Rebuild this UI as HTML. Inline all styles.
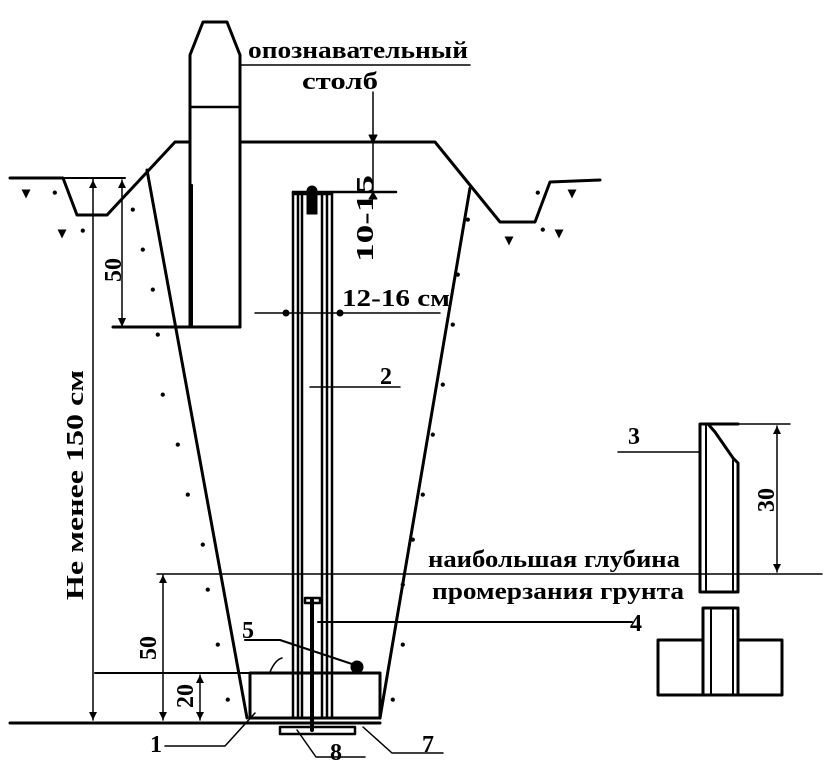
<!DOCTYPE html>
<html><head><meta charset="utf-8"><style>
html,body{margin:0;padding:0;background:#fff}
svg{display:block}
text{font-family:"Liberation Serif",serif;fill:#000;font-weight:bold}
</style></head><body>
<svg width="827" height="774" viewBox="0 0 827 774" xmlns="http://www.w3.org/2000/svg">
<g stroke="#000" fill="none" stroke-linecap="round" stroke-linejoin="round">
<path d="M10 178 L63 178 L77 215 L107 215 L175 142 L435 142 L500 222 L535 222 L550 182 L600 180" stroke-width="3"/>
<line x1="63" y1="178" x2="125" y2="178" stroke-width="2"/>
<path d="M190 327 L190 55 L203 22 L227 22 L240 55 L240 327 Z" fill="#fff" stroke-width="3"/>
<line x1="190" y1="107" x2="238" y2="107" stroke-width="2.5"/>
<line x1="113" y1="327" x2="240" y2="327" stroke-width="3"/>
<line x1="192" y1="185" x2="192" y2="325" stroke-width="2"/>
<line x1="147" y1="170" x2="247" y2="718" stroke-width="3"/>
<line x1="470" y1="188" x2="380" y2="718" stroke-width="3"/>
<line x1="10" y1="723" x2="380" y2="723" stroke-width="3"/>
<rect x="250" y="673" width="130" height="45" stroke-width="3"/>
<line x1="95" y1="673" x2="250" y2="673" stroke-width="2"/>
<path d="M280 727 L355 727 L355 734 L280 734 Z" stroke-width="2.5"/>
<g stroke-width="2.5">
<line x1="293" y1="192" x2="293" y2="718"/>
<line x1="298" y1="195" x2="298" y2="718"/>
<line x1="302" y1="195" x2="302" y2="718"/>
<line x1="322" y1="195" x2="322" y2="718"/>
<line x1="327" y1="195" x2="327" y2="718"/>
<line x1="332" y1="192" x2="332" y2="718"/>
<line x1="293" y1="194" x2="332" y2="194"/>
<line x1="312" y1="600" x2="312" y2="730" stroke-width="4"/>
<rect x="305" y="598" width="15" height="5"/>
</g>
<circle cx="312" cy="191" r="5" fill="#000"/>
<rect x="307" y="194" width="10" height="20" fill="#000"/>
<line x1="373" y1="92" x2="373" y2="190" stroke-width="1.5"/>
<path d="M369 135 L373 143 L377 135 Z M369 199 L373 192 L377 199Z" fill="#000"/>
<line x1="293" y1="192" x2="396" y2="192" stroke-width="2.5"/>
<line x1="255" y1="313" x2="440" y2="313" stroke-width="1.5"/>
<circle cx="286" cy="313" r="3" fill="#000"/><circle cx="340" cy="313" r="3" fill="#000"/>
<line x1="240" y1="65" x2="470" y2="65" stroke-width="1.5"/>
<line x1="310" y1="387" x2="400" y2="387" stroke-width="1.5"/>
<line x1="93" y1="178" x2="93" y2="720" stroke-width="1.5"/>
<line x1="122" y1="180" x2="122" y2="325" stroke-width="1.5"/>
<line x1="163" y1="575" x2="163" y2="720" stroke-width="1.5"/>
<line x1="200" y1="675" x2="200" y2="720" stroke-width="1.5"/>
<line x1="157" y1="574" x2="822" y2="574" stroke-width="1.5"/>
<line x1="318" y1="622" x2="632" y2="622" stroke-width="2"/>
<path d="M245 640 L280 640 L355 665" stroke-width="2"/>
<path d="M270 672 Q275 660 282 658" stroke-width="1.5"/>
<circle cx="357" cy="667" r="6" fill="#000"/>
<path d="M165 746 L225 746 L255 713" stroke-width="1.5"/>
<path d="M297 730 L316 757 L365 757" stroke-width="1.5"/>
<path d="M363 727 L392 753 L443 753" stroke-width="1.5"/>
<line x1="618" y1="452" x2="700" y2="452" stroke-width="1.5"/>
<path d="M700 424 L738 424 M700 424 L700 592 L738 592 L738 463 L733 458 L715 432 L708 424" stroke-width="3"/>
<line x1="706" y1="426" x2="706" y2="590" stroke-width="2"/>
<line x1="733" y1="460" x2="733" y2="590" stroke-width="2"/>
<line x1="700" y1="424" x2="790" y2="424" stroke-width="1.5"/>
<line x1="777" y1="426" x2="777" y2="572" stroke-width="1.5"/>
<path d="M703 608 L738 608 L738 695 L703 695 Z" stroke-width="3"/>
<line x1="711" y1="608" x2="711" y2="695" stroke-width="2"/>
<line x1="733" y1="608" x2="733" y2="695" stroke-width="2"/>
<path d="M703 640 L658 640 L658 695 L782 695 L782 640 L738 640" stroke-width="3"/>
</g>
<g fill="#000">
<path d="M89 188 L93 180 L97 188Z M89 712 L93 720 L97 712Z M118 188 L122 180 L126 188Z M118 318 L122 327 L126 318Z M159 583 L163 575 L167 583Z M159 712 L163 720 L167 712Z M196 683 L200 675 L204 683Z M196 712 L200 720 L204 712Z M773 434 L777 426 L781 434Z M773 564 L777 572 L781 564Z"/>
<g font-size="16" font-family="DejaVu Sans" style="font-weight:bold">
<text x="22" y="198">▾</text><text x="52" y="198">•</text><text x="58" y="238">▾</text><text x="80" y="236">•</text>
<text x="130" y="215">•</text><text x="140" y="255">•</text><text x="150" y="295">•</text><text x="155" y="340">•</text>
<text x="160" y="400">•</text><text x="175" y="450">•</text><text x="185" y="500">•</text><text x="200" y="550">•</text>
<text x="205" y="595">•</text><text x="215" y="650">•</text><text x="225" y="705">•</text>
<text x="465" y="225">•</text><text x="455" y="280">•</text><text x="450" y="330">•</text><text x="440" y="390">•</text>
<text x="430" y="440">•</text><text x="420" y="500">•</text><text x="410" y="545">•</text><text x="400" y="590">•</text>
<text x="400" y="650">•</text><text x="390" y="705">•</text><text x="535" y="198">•</text><text x="568" y="198">▾</text>
<text x="540" y="235">•</text><text x="555" y="238">▾</text><text x="505" y="245">▾</text>
</g>
</g>
<g font-size="24">
<text x="248" y="58" textLength="220" lengthAdjust="spacingAndGlyphs">опознавательный</text>
<text x="302" y="89" textLength="76" lengthAdjust="spacingAndGlyphs">столб</text>
<text x="342" y="306" textLength="108" lengthAdjust="spacingAndGlyphs">12-16 см</text>
<text x="380" y="384">2</text>
<text x="428" y="567" textLength="252" lengthAdjust="spacingAndGlyphs">наибольшая глубина</text>
<text x="432" y="599" textLength="252" lengthAdjust="spacingAndGlyphs">промерзания грунта</text>
<text x="630" y="631">4</text>
<text x="242" y="638">5</text>
<text x="150" y="752">1</text>
<text x="330" y="760">8</text>
<text x="422" y="752">7</text>
<text x="628" y="444">3</text>
<text transform="translate(373,262) rotate(-90)" textLength="87" lengthAdjust="spacingAndGlyphs">10-15</text>
<text transform="translate(121,282) rotate(-90)">50</text>
<text transform="translate(156,660) rotate(-90)">50</text>
<text transform="translate(193,708) rotate(-90)">20</text>
<text transform="translate(774,512) rotate(-90)">30</text>
<text transform="translate(83,600) rotate(-90)" textLength="230" lengthAdjust="spacingAndGlyphs">Не менее 150 см</text>
</g>
</svg>
</body></html>
